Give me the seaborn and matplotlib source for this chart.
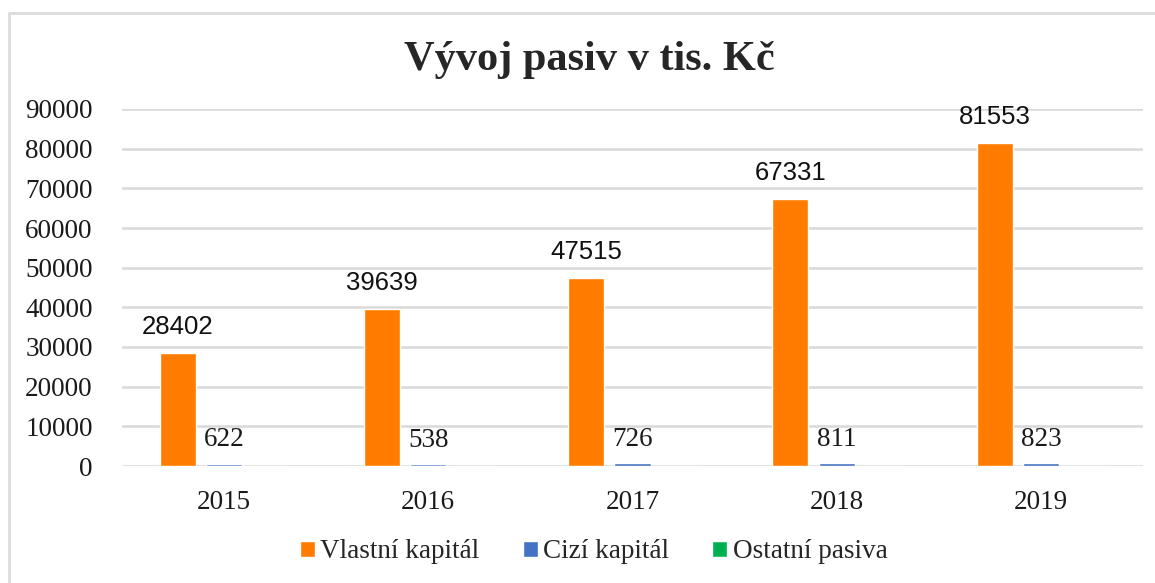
import matplotlib
matplotlib.use("Agg")
import matplotlib.pyplot as plt
import seaborn as sns
import pandas as pd
from matplotlib.patches import Rectangle

years = ["2015", "2016", "2017", "2018", "2019"]
vlastni = [28402, 39639, 47515, 67331, 81553]
cizi = [622, 538, 726, 811, 823]
ostatni = [0, 0, 0, 0, 0]
series = ["Vlastní kapitál", "Cizí kapitál", "Ostatní pasiva"]
colors = ["#FF7C00", "#4472C4", "#00B050"]

df = pd.DataFrame({
    "rok": years * 3,
    "hodnota": vlastni + cizi + ostatni,
    "typ": [series[0]] * 5 + [series[1]] * 5 + [series[2]] * 5,
})

sns.set_style("white")
plt.rcParams["font.family"] = ["Liberation Serif", "DejaVu Serif"]

fig = plt.figure(figsize=[11.55, 5.83], dpi=100)
# ramecek grafu (vpravo a dole je oriznuty)
fig.patches.append(Rectangle((9 / 1155, -20 / 583), 1200 / 1155, 590 / 583, transform=fig.transFigure,
                             fill=False, edgecolor="#dcdcdc", linewidth=2))
ax = fig.add_axes([122 / 1155, 1 - 466 / 583, 1021 / 1155, 357 / 583])

sns.barplot(data=df, x="rok", y="hodnota", hue="typ", palette=colors, width=0.68, gap=0.22,
            ax=ax, saturation=1, legend=True)

ax.set_ylim(0, 90000)
ax.set_xlim(-0.5, 4.5)
ax.set_yticks(range(0, 90001, 10000))
ax.yaxis.grid(True, color="#d9d9d9", linewidth=1.8)
ax.set_axisbelow(True)
for s in ax.spines.values():
    s.set_visible(False)
ax.tick_params(axis="both", length=0, labelsize=19.5, colors="#1a1a1a")
ax.tick_params(axis="x", pad=17)
ax.tick_params(axis="y", pad=21)
ax.set_xlabel("")
ax.set_ylabel("")

# popisky hodnot
for i, c in enumerate(ax.containers):
    if i == 0:
        ax.bar_label(c, labels=[str(v) for v in vlastni], padding=10, fontsize=18.5,
                     family=["Liberation Sans", "DejaVu Sans"], color="#111111")
    elif i == 1:
        ax.bar_label(c, labels=[str(v) for v in cizi], padding=8, fontsize=19.5, color="#1a1a1a")

fig.suptitle("Vývoj pasiv v tis. Kč", fontsize=30.5, fontweight="bold", y=0.93, x=0.51)

h, l = ax.get_legend_handles_labels()
ax.legend_.remove()
fig.legend(h, l, loc="center", bbox_to_anchor=(0.514, 1 - 552 / 583), ncol=3, frameon=False,
           fontsize=19.5, handlelength=0.55, handleheight=0.55, handletextpad=0.2, columnspacing=1.6)

fig.savefig("out.png", dpi=100)
